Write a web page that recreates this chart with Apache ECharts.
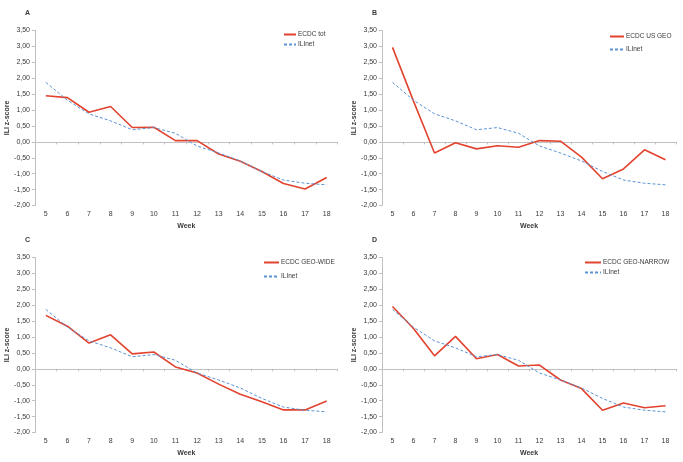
<!DOCTYPE html>
<html>
<head>
<meta charset="utf-8">
<title>ILI z-score</title>
<script src="https://cdn.jsdelivr.net/npm/echarts@6/dist/echarts.min.js"></script>
<style>
  html, body { margin: 0; padding: 0; background: #fff; }
  #chart { width: 683px; height: 462px; }
</style>
</head>
<body>
<div id="chart"></div>
<script>
// data
const weeks = ["5", "6", "7", "8", "9", "10", "11", "12", "13", "14", "15", "16", "17", "18"];
const ilinet = [1.87, 1.31, 0.88, 0.66, 0.38, 0.45, 0.27, -0.13, -0.35, -0.6, -0.93, -1.2, -1.3, -1.35];
const ecdcTot = [1.45, 1.39, 0.93, 1.11, 0.45, 0.46, 0.04, 0.04, -0.38, -0.61, -0.93, -1.31, -1.48, -1.12];
const ecdcUsGeo = [2.97, 1.28, -0.35, -0.03, -0.22, -0.12, -0.17, 0.04, 0.02, -0.48, -1.16, -0.85, -0.25, -0.56];
const ecdcGeoWide = [1.68, 1.34, 0.81, 1.07, 0.47, 0.53, 0.06, -0.13, -0.48, -0.8, -1.03, -1.29, -1.29, -1.01];
const ecdcGeoNarrow = [1.96, 1.27, 0.41, 1.02, 0.32, 0.45, 0.09, 0.12, -0.35, -0.62, -1.3, -1.07, -1.22, -1.16];
const panelLetters = ["A", "B", "C", "D"];
const ecdcNames = ["ECDC tot", "ECDC US GEO", "ECDC GEO-WIDE", "ECDC GEO-NARROW"];
const ecdcValues = [ecdcTot, ecdcUsGeo, ecdcGeoWide, ecdcGeoNarrow];
const yMin = -2;
const yMax = 3.5;
const yStep = 0.5;

(function () {
  const font = "'Liberation Sans', Arial, sans-serif";
  const axisGray = "#c0c0c0";
  const textColor = "#3a3a3a";

  // pixel layout of each panel
  const panels = [
    { grid: [35, 30.5, 302.5, 175], letter: [20, 5], legend: [283, 31, 3, 12] },
    { grid: [382, 30.5, 294, 175], letter: [367, 5], legend: [609, 33, 6, 14] },
    { grid: [35, 257.5, 302.5, 175], letter: [20, 232], legend: [263, 259, 7, 15] },
    { grid: [382, 257.5, 294, 175], letter: [367, 232], legend: [584, 259, 3, 16] },
  ];

  const option = {
    animation: false,
    textStyle: { fontFamily: font },
    title: [],
    legend: [],
    grid: [],
    xAxis: [],
    yAxis: [],
    series: [],
  };

  panels.forEach(function (p, i) {
    option.title.push({
      text: panelLetters[i],
      left: p.letter[0],
      top: p.letter[1],
      textStyle: { fontSize: 7, fontWeight: "bold", color: textColor, fontFamily: font },
    });

    option.grid.push({
      left: p.grid[0],
      top: p.grid[1],
      width: p.grid[2],
      height: p.grid[3],
      containLabel: false,
    });

    // bottom axis: week labels and name only
    option.xAxis.push({
      type: "category",
      gridIndex: i,
      data: weeks,
      boundaryGap: true,
      position: "bottom",
      axisLine: { show: false, onZero: false },
      axisTick: { show: false },
      axisLabel: { color: textColor, fontSize: 7, margin: 5 },
      name: "Week",
      nameLocation: "middle",
      nameGap: 17.5,
      nameTextStyle: { fontSize: 7, fontWeight: "bold", color: textColor },
      splitLine: { show: false },
    });

    // axis line drawn on y = 0
    option.xAxis.push({
      type: "category",
      gridIndex: i,
      data: weeks,
      boundaryGap: true,
      position: "bottom",
      axisLine: { show: true, onZero: true, lineStyle: { color: axisGray, width: 1 } },
      axisTick: { show: true, length: 2.5, lineStyle: { color: axisGray } },
      axisLabel: { show: false },
      splitLine: { show: false },
    });

    option.yAxis.push({
      type: "value",
      gridIndex: i,
      min: yMin,
      max: yMax,
      interval: yStep,
      axisLine: { show: true, lineStyle: { color: axisGray, width: 1 } },
      axisTick: { show: true, length: 3, lineStyle: { color: axisGray } },
      splitLine: { show: false },
      axisLabel: {
        color: textColor,
        fontSize: 7,
        margin: 5,
        formatter: function (v) {
          return v.toFixed(2).replace(".", ",");
        },
      },
      name: "ILI z-score",
      nameLocation: "middle",
      nameRotate: 90,
      nameGap: 20,
      nameTextStyle: { fontSize: 7, fontWeight: "bold", color: textColor },
    });

    option.legend.push({
      orient: "vertical",
      left: p.legend[0],
      top: p.legend[1],
      itemGap: p.legend[2],
      itemWidth: p.legend[3],
      itemHeight: 8,
      padding: 0,
      itemStyle: { opacity: 0 },
      data: [ecdcNames[i], "ILInet"],
      textStyle: { fontSize: 6.5, color: textColor, fontFamily: font, padding: [0, 0, 0, -3] },
    });

    option.series.push({
      name: ecdcNames[i],
      type: "line",
      xAxisIndex: i * 2,
      yAxisIndex: i,
      data: ecdcValues[i],
      symbol: "none",
      lineStyle: { color: "#e2432f", width: 1.6 },
      itemStyle: { color: "#e2432f" },
      z: 3,
    });

    option.series.push({
      name: "ILInet",
      type: "line",
      xAxisIndex: i * 2,
      yAxisIndex: i,
      data: ilinet,
      symbol: "none",
      lineStyle: { color: "#5b93d3", width: 1, type: [3, 2] },
      itemStyle: { color: "#5b93d3" },
      z: 4,
    });
  });

  const myChart = echarts.init(document.getElementById("chart"));
  myChart.setOption(option);

  window.addEventListener("resize", function () {
    myChart.resize();
  });
})();
</script>
</body>
</html>
